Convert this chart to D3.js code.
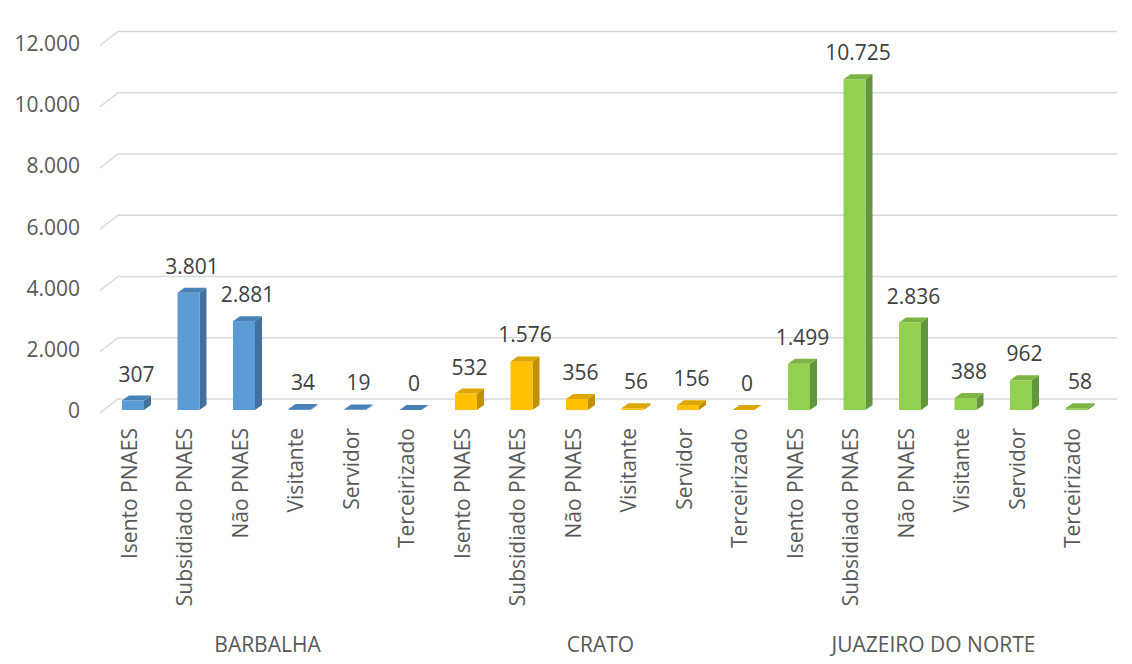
<!doctype html>
<html>
<head>
<meta charset="utf-8">
<script src="https://d3js.org/d3.v7.min.js"></script>
<style>
  body { margin: 0; background: #fff; }
  svg { display: block; font-family: "Open Sans", sans-serif; }
  .axis-label { font-size: 21px; fill: #595959; }
  .value-label { font-size: 21px; fill: #404040; text-anchor: middle; }
</style>
</head>
<body>
<svg id="chart" width="1132" height="664"></svg>
<script>
// data
var groups = ["BARBALHA", "CRATO", "JUAZEIRO DO NORTE"];
var categories = ["Isento PNAES", "Subsidiado PNAES", "Não PNAES", "Visitante", "Servidor", "Terceirizado"];
var barbalha = [307, 3801, 2881, 34, 19, 0];
var crato = [532, 1576, 356, 56, 156, 0];
var juazeiro = [1499, 10725, 2836, 388, 962, 58];
var yTicks = [0, 2000, 4000, 6000, 8000, 10000, 12000];

var palette = [
  { front: "#5b9bd5", side: "#41719c", top: "#4a80b8" },
  { front: "#ffc000", side: "#bf9000", top: "#dea700" },
  { front: "#92d050", side: "#62963a", top: "#7cb544" }
];

var seriesVals = [barbalha, crato, juazeiro];
var rows = [];
groups.forEach(function(g, gi) {
  categories.forEach(function(c, ci) {
    rows.push({ group: g, gi: gi, cat: c, value: seriesVals[gi][ci], idx: gi * categories.length + ci });
  });
});

var fmt = d3.formatLocale({ decimal: ",", thousands: ".", grouping: [3], currency: ["R$", ""] }).format(",d");

var svg = d3.select("#chart");

var x = d3.scaleBand()
  .domain(rows.map(function(d) { return d.idx; }))
  .range([101, 1100]);

var yBack = d3.scaleLinear().domain([0, 12000]).range([399, 31.5]);
var yBar = d3.scaleLinear().domain([0, 12000]).range([410, 40]);

var depthX = 18, depthY = 14;   // wall perspective
var bdx = 7, bdy = -5;          // bar depth
var barW = 22, barOff = 21;

// gridlines (back wall with diagonal)
var grid = svg.append("g");
yTicks.forEach(function(t) {
  var yb = yBack(t);
  grid.append("path")
    .attr("d", "M100," + (yb + depthY) + "L" + (100 + depthX) + "," + yb + "L1117," + yb)
    .attr("fill", "none")
    .attr("stroke", "#d9d9d9")
    .attr("stroke-width", 1.5);
  grid.append("text")
    .attr("class", "axis-label")
    .attr("x", 80)
    .attr("y", yb + 12)
    .attr("dy", "0.35em")
    .attr("text-anchor", "end")
    .text(fmt(t));
});

// bars
var bars = svg.append("g").selectAll("g").data(rows).enter().append("g");

bars.each(function(d) {
  var g = d3.select(this);
  var c = palette[d.gi];
  var x0 = x(d.idx) + barOff, x1 = x0 + barW;
  var y0 = yBar(0), yt = yBar(d.value);
  // side
  g.append("path")
    .attr("d", "M" + x1 + "," + yt + "L" + (x1 + bdx) + "," + (yt + bdy) +
      "L" + (x1 + bdx) + "," + (y0 + bdy) + "L" + x1 + "," + y0 + "Z")
    .attr("fill", c.side);
  // front
  g.append("rect")
    .attr("x", x0).attr("y", yt)
    .attr("width", barW).attr("height", y0 - yt)
    .attr("fill", c.front);
  // top
  g.append("path")
    .attr("d", "M" + x0 + "," + yt + "L" + x1 + "," + yt + "L" + (x1 + bdx) + "," + (yt + bdy) +
      "L" + (x0 + bdx) + "," + (yt + bdy) + "Z")
    .attr("fill", c.top);
  // value
  g.append("text")
    .attr("class", "value-label")
    .attr("x", x0 + barW / 2 + bdx / 2)
    .attr("y", yt + bdy - 14)
    .text(fmt(d.value));
});

// category labels
svg.append("g").selectAll("text").data(rows).enter().append("text")
  .attr("class", "axis-label")
  .attr("text-anchor", "end")
  .attr("transform", function(d) {
    return "translate(" + (x(d.idx) + x.bandwidth() / 2 + 8) + ",428) rotate(-90)";
  })
  .text(function(d) { return d.cat; });

// group labels
svg.append("g").selectAll("text").data(groups).enter().append("text")
  .attr("class", "axis-label")
  .attr("text-anchor", "middle")
  .attr("x", function(g, gi) {
    var first = x(gi * categories.length);
    var last = x(gi * categories.length + categories.length - 1) + x.bandwidth();
    return (first + last) / 2;
  })
  .attr("y", 652)
  .text(function(g) { return g; });
</script>
</body>
</html>
